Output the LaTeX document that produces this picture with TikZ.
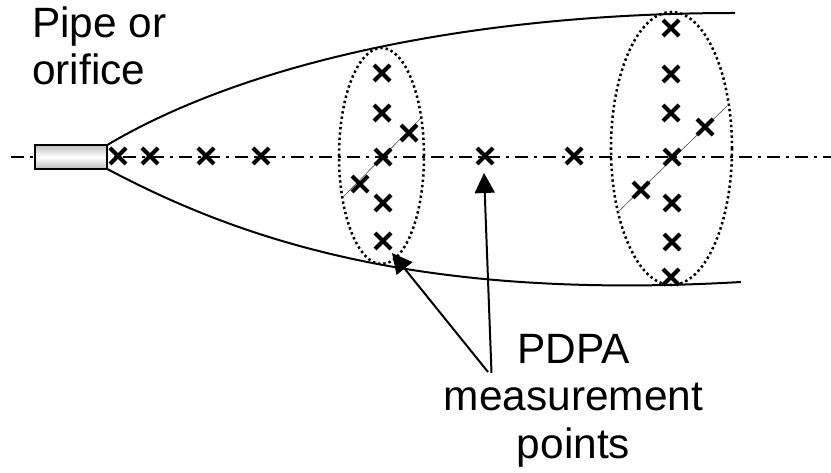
\documentclass[tikz,border=0pt]{standalone}
\usepackage{fontspec}
\setmainfont{Liberation Sans}
\usetikzlibrary{shapes.misc,shapes.geometric,arrows.meta}
\tikzset{
  xmark/.style={cross out,draw=black,line width=3pt,minimum size=12pt,inner sep=0pt,outer sep=0pt},
  spray/.style={line width=1.5pt,draw=black},
  halo/.style={ellipse,draw=black,line width=1.9pt,dash pattern=on 1.8pt off 2.2pt,inner sep=0pt,outer sep=0pt},
  axisline/.style={line width=2pt,dash pattern=on 10pt off 4pt on 2.2pt off 4.8pt},
  diagline/.style={line width=0.45pt,draw=black!70},
  pointer/.style={line width=1.5pt,-{Triangle[length=15pt,width=15pt]}},
  lab/.style={font=\fontsize{31.8}{35.6}\selectfont,inner sep=0pt,align=center},
}
\begin{document}
\begin{tikzpicture}[x=0.75pt,y=-0.75pt]
\useasboundingbox (0,0) rectangle (831,473);
\coordinate (axisL) at (11,157);
\coordinate (axisR) at (831,157);
\draw[axisline] (axisL) -- (axisR);
\node[draw=black,line width=1.5pt,minimum width=53.5pt,minimum height=17.5pt,inner sep=0pt,outer sep=0pt,
  top color=black!25,bottom color=black!25,middle color=white] (box) at (71,157) {};
\coordinate (topend) at (735,13);
\coordinate (botend) at (741,282);
\draw[spray] (box.north east) .. controls (250,60) and (480,13) .. (topend);
\draw[spray] (box.south east) .. controls (250,245) and (430,300) .. (botend);
\node[halo,minimum width=63.75pt,minimum height=162pt] (e1) at (381.5,156) {};
\node[halo,minimum width=90.75pt,minimum height=204.75pt] (e2) at (671.5,148.5) {};
\coordinate (d1a) at (420,119); \coordinate (d1b) at (343,197);
\coordinate (d2a) at (727,106); \coordinate (d2b) at (618,212);
\draw[diagline] (d1a) -- (d1b);
\draw[diagline] (d2a) -- (d2b);
\foreach \n/\x/\y in {a1/118/156,a2/150/156,a3/206/156,a4/261/156,a5/485/156,a6/574/156,
  b1/382/73,b2/382/113,b3/409/133,b4/383/157,b5/360/184,b6/383/203,b7/383/241,
  c1/671/28,c2/671/74,c3/671/113,c4/705/127,c5/672/157,c6/641/190,c7/672/203,c8/672/242,c9/671/277}
  \node[xmark] (\n) at (\x,\y) {};
\node[lab,anchor=base west,align=left] (pipe) at (32,85) {Pipe or\\orifice};
\node[lab,anchor=base] (pdpa) at (573.5,458) {PDPA\\measurement\\points};
\coordinate (from1) at (491.5,373);
\coordinate (from2) at (488,372);
\coordinate (tip1) at (484,173);
\coordinate (tip2) at (392,253);
\draw[pointer] (from1) -- (tip1);
\draw[pointer] (from2) -- (tip2);
\end{tikzpicture}
\end{document}
